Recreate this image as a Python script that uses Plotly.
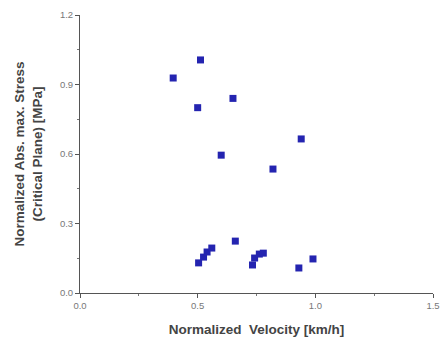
import plotly.graph_objects as go

velocity = [0.396, 0.512, 0.50, 0.65, 0.60, 0.94, 0.82,
            0.504, 0.525, 0.54, 0.56, 0.66, 0.733, 0.742, 0.762, 0.779, 0.93, 0.99]
stress = [0.928, 1.006, 0.80, 0.84, 0.595, 0.665, 0.535,
          0.13, 0.155, 0.177, 0.194, 0.224, 0.121, 0.151, 0.168, 0.172, 0.108, 0.147]

fig = go.Figure(go.Scatter(
    x=velocity, y=stress, mode="markers",
    marker=dict(symbol="square", size=7, color="#2424b0", line=dict(width=0)),
))

axis_common = dict(
    showgrid=False, zeroline=False, showline=True, linecolor="#555", linewidth=1,
    ticks="outside", ticklen=4, tickcolor="#555", tickwidth=1,
    tickfont=dict(family="Liberation Sans, Arial", size=9.5, color="#777"),
    minor=dict(ticks="outside", ticklen=2, tickcolor="#777"),
)
title_font = dict(family="Liberation Sans, Arial", size=13.5, color="#444")

fig.update_layout(
    width=447, height=346, margin=dict(l=80, r=7, t=15, b=53),
    paper_bgcolor="white", plot_bgcolor="white", showlegend=False,
    xaxis=dict(range=[0, 1.5], tickvals=[0, 0.5, 1.0, 1.5], tickformat=".1f",
               title=dict(text="<b>Normalized  Velocity [km/h]</b>", standoff=14, font=title_font),
               **axis_common),
    yaxis=dict(range=[0, 1.2], tickvals=[0, 0.3, 0.6, 0.9, 1.2], tickformat=".1f",
               title=dict(text="<b>Normalized Abs. max. Stress<br>(Critical Plane) [MPa]</b>", standoff=14,
                          font=title_font),
               **axis_common),
)
fig.update_xaxes(minor=dict(tickvals=[0.25, 0.75, 1.25]))
fig.update_yaxes(minor=dict(tickvals=[0.15, 0.45, 0.75, 1.05]))

fig.write_html("out.html")
